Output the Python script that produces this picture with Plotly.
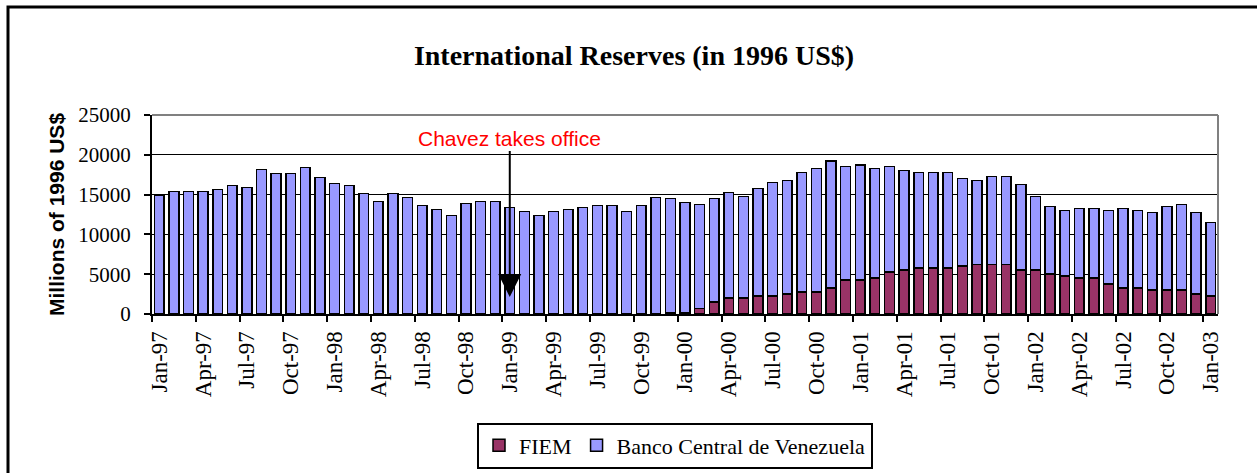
import plotly.graph_objects as go

years = ["97", "98", "99", "00", "01", "02"]
month_names = ["Jan", "Feb", "Mar", "Apr", "May", "Jun",
               "Jul", "Aug", "Sep", "Oct", "Nov", "Dec"]
months = [f"{m}-{y}" for y in years for m in month_names] + ["Jan-03"]

fiem = [0] * 35 + [
    150, 200, 700, 1500, 2000, 2000, 2250, 2250, 2500, 2750, 2750, 3250, 4250,
    4250, 4500, 5250, 5500, 5750, 5750, 5750, 6000, 6250, 6250, 6250, 5500,
    5500, 5000, 4750, 4500, 4500, 3750, 3250, 3250, 3000, 3000, 3000, 2500,
    2250,
]

bcv = [
    # 1997
    14900, 15400, 15400, 15400, 15650, 16150, 15900, 18150, 17650, 17650, 18400, 17150,
    # 1998
    16400, 16150, 15150, 14150, 15150, 14650, 13650, 13150, 12400, 13900, 14150, 14150,
    # 1999
    13400, 12900, 12400, 12900, 13150, 13400, 13650, 13650, 12900, 13650, 14650, 14350,
    # 2000
    13800, 13050, 13000, 13250, 12750, 13500, 14250, 14250, 15000, 15500, 16000, 14250,
    # 2001
    14500, 13750, 13250, 12500, 12000, 12000, 12000, 11000, 10500, 11000, 11000, 10750,
    # 2002
    9250, 8500, 8250, 8750, 8750, 9250, 10000, 9750, 9750, 10500, 10750, 10250,
    # 2003
    9250,
]

y_ticks = [0, 5000, 10000, 15000, 20000, 25000]
y_tick_text = ["0", "5000", "10000", "15000", "20000", "25000"]

serif = "Liberation Serif, Times New Roman, serif"
sans = "Liberation Sans, Arial, sans-serif"

fig = go.Figure()
fig.add_trace(go.Bar(x=months, y=fiem, name="FIEM",
                     marker=dict(color="#993366", line=dict(color="black", width=1.5))))
fig.add_trace(go.Bar(x=months, y=bcv, name="Banco Central de Venezuela",
                     marker=dict(color="#9999FF", line=dict(color="black", width=1.5))))

L, R, T, B = 152, 39, 115, 159
W, H = 1257, 473
pw, ph = W - L - R, H - T - B

def px(x):
    return (x - L) / pw

def py(y):
    return (H - B - y) / ph

fig.update_layout(
    width=W, height=H,
    margin=dict(l=L, r=R, t=T, b=B, autoexpand=False),
    paper_bgcolor="white", plot_bgcolor="white",
    barmode="stack", bargap=0.33,
    showlegend=True,
    title=dict(text="<b>International Reserves (in 1996 US$)</b>",
               font=dict(family=serif, size=28, color="black"),
               x=634 / W, xref="container", xanchor="center",
               y=1 - 55 / H, yref="container", yanchor="middle"),
    legend=dict(orientation="h", x=675 / W, y=1 - 445.5 / H,
                xref="container", yref="container",
                xanchor="center", yanchor="middle",
                bordercolor="black", borderwidth=2, bgcolor="white",
                traceorder="normal", itemwidth=30,
                font=dict(family=serif, size=22, color="black")),
    xaxis=dict(type="category", tickson="boundaries", dtick=3,
               tickangle=-90, ticks="outside", ticklen=6, tickwidth=2,
               tickcolor="black", showline=True, linecolor="black",
               linewidth=2, showgrid=False, automargin=False,
               ticklabelstandoff=6,
               tickfont=dict(family=serif, size=23, color="black")),
    yaxis=dict(range=[0, 25000], tickvals=y_ticks, ticktext=y_tick_text,
               ticks="outside", ticklen=6, tickwidth=2, tickcolor="black",
               showline=True, linecolor="black", linewidth=2,
               showgrid=True, gridcolor="black", gridwidth=1,
               zeroline=False, ticklabelstandoff=9, automargin=False,
               tickfont=dict(family=serif, size=21, color="black")),
)

fig.update_layout(shapes=[
    # outer chart border (extends beyond the visible image on right/bottom)
    dict(type="rect", xref="paper", yref="paper",
         x0=px(8), x1=px(1300), y0=py(520), y1=py(7),
         line=dict(color="black", width=3)),
    # gray plot-area top and right edges
    dict(type="line", xref="paper", yref="paper", x0=0, x1=1, y0=1, y1=1,
         line=dict(color="#808080", width=2)),
    dict(type="line", xref="paper", yref="paper", x0=1, x1=1, y0=0, y1=1,
         line=dict(color="#808080", width=2)),
])

fig.add_annotation(
    x="Jan-99", y=2125, xref="x", yref="y",
    ax="Jan-99", ay=22100, axref="x", ayref="y",
    text="Chavez takes office", showarrow=True,
    arrowhead=2, arrowsize=2.3, arrowwidth=2, arrowcolor="black",
    font=dict(family=sans, size=21, color="red"),
)
fig.add_annotation(
    x=px(56), y=py(215), xref="paper", yref="paper",
    xanchor="center", yanchor="middle",
    text="<b>Millions of 1996 US$</b>", textangle=-90, showarrow=False,
    font=dict(family=sans, size=21, color="black"),
)

fig.write_html("out.html")
